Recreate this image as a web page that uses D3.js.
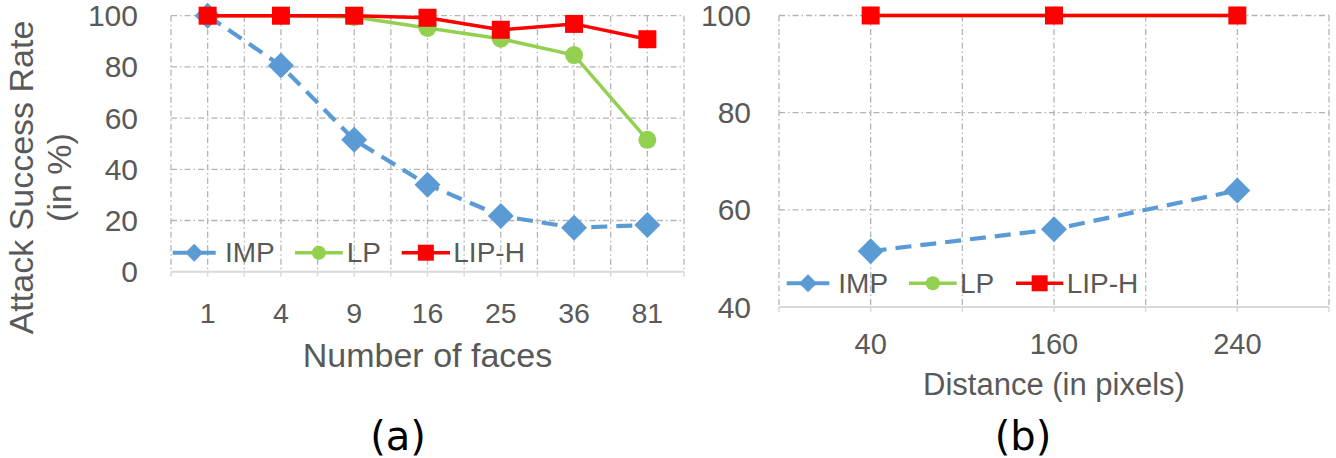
<!DOCTYPE html>
<html><head><meta charset="utf-8">
<script src="https://cdn.jsdelivr.net/npm/d3@7"></script>
<style>
html,body{margin:0;padding:0;background:#fff;}
svg{display:block;}
text{font-family:"Liberation Sans",Arial,sans-serif;fill:#595959;}
</style></head>
<body>
<svg id="c" width="1336" height="458"></svg>
<script>
// ---- data ----
const facesCats = ["1","4","9","16","25","36","81"];
const facesIMP  = [100, 80.5, 51.5, 34, 21.8, 17.2, 18.2];
const facesLP   = [100, 100, 99.5, 95.2, 91, 84.6, 51.5];
const facesLIPH = [100, 100, 100, 99.2, 94.5, 96.8, 90.8];
const facesYTicks = [0, 20, 40, 60, 80, 100];

const distCats = ["40","160","240"];
const distIMP  = [51.5, 56, 64];
const distLP   = [100, 100, 100];
const distLIPH = [100, 100, 100];
const distYTicks = [40, 60, 80, 100];

const seriesNames = ["IMP","LP","LIP-H"];
const yTitle = ["Attack Success Rate","(in %)"];
const xTitleA = "Number of faces";
const xTitleB = "Distance (in pixels)";
const captions = ["(a)","(b)"];

// ---- styles ----
const colors = {"IMP":"#5B9BD5","LP":"#92D050","LIP-H":"#FF0000"};
const svg = d3.select("#c");
const gridColor = "#b4b4b4";

function diamondPath(r){ return `M0,${-r}L${r},0L0,${r}L${-r},0Z`; }

function drawPanel(o){
  const g = svg.append("g");
  const x = d3.scalePoint().domain(o.cats).range([o.x0, o.x1]).padding(0.5);
  const y = d3.scaleLinear().domain(o.yDomain).range([o.yB, o.yT]);
  const step = x.step();
  const nHalf = o.cats.length*2;
  const halfs = d3.range(nHalf+1).map(i => o.x0 + i*step/2);

  // horizontal grid
  g.selectAll(".hg").data(o.yTicks.filter(t => t !== o.yDomain[0])).join("line")
    .attr("x1", o.x0).attr("x2", o.x1)
    .attr("y1", d => y(d)).attr("y2", d => y(d))
    .attr("stroke", gridColor).attr("stroke-width", 1.3)
    .attr("stroke-dasharray", "6,3,1.5,3");
  // vertical grid
  g.selectAll(".vg").data(halfs).join("line")
    .attr("x1", d => d).attr("x2", d => d)
    .attr("y1", y(o.yDomain[1])).attr("y2", o.yB)
    .attr("stroke", gridColor).attr("stroke-width", 1.3)
    .attr("stroke-dasharray", "6,3,1.5,3");
  // x axis line + ticks
  g.append("line").attr("x1", o.x0).attr("x2", o.x1).attr("y1", o.yB).attr("y2", o.yB)
    .attr("stroke", "#d9d9d9").attr("stroke-width", 2);
  g.selectAll(".xt").data(halfs).join("line")
    .attr("x1", d => d).attr("x2", d => d).attr("y1", o.yB).attr("y2", o.yB+5)
    .attr("stroke", "#d9d9d9").attr("stroke-width", 1.5);

  // y tick labels
  g.selectAll(".yl").data(o.yTicks).join("text")
    .attr("x", o.yLabelX).attr("y", d => y(d))
    .attr("text-anchor", "end").attr("dominant-baseline", "central")
    .attr("font-size", o.yFont).text(d => d);
  // x tick labels
  g.selectAll(".xl").data(o.cats).join("text")
    .attr("x", d => x(d)).attr("y", o.xLabelY)
    .attr("text-anchor", "middle").attr("font-size", o.xFont).text(d => d);
  // x title
  g.append("text").attr("x", (o.x0+o.x1)/2).attr("y", o.xTitleY)
    .attr("text-anchor", "middle").attr("font-size", o.xTitleFont).text(o.xTitle);

  const line = d3.line().x(d => x(d.c)).y(d => y(d.v));
  const ser = o.series.map(s => ({name:s.name, pts:o.cats.map((c,i)=>({c, v:s.vals[i]}))}));
  ser.forEach(s => {
    const col = colors[s.name];
    const path = g.append("path").datum(s.pts).attr("d", line)
      .attr("fill","none").attr("stroke", col)
      .attr("stroke-width", s.name==="IMP" ? 4.2 : 3.5)
      .attr("stroke-linejoin","round");
    if (s.name==="IMP") path.attr("stroke-dasharray","16,9");
    const m = g.selectAll(null).data(s.pts).join("g")
      .attr("transform", d => `translate(${x(d.c)},${y(d.v)})`);
    if (s.name==="IMP") m.append("path").attr("d", diamondPath(13)).attr("fill", col);
    else if (s.name==="LP") m.append("circle").attr("r", 9).attr("fill", col);
    else m.append("rect").attr("x",-9).attr("y",-9).attr("width",18).attr("height",18).attr("fill", col);
  });

  // legend
  const lg = g.append("g");
  o.legend.forEach((L, i) => {
    const name = seriesNames[i];
    const col = colors[name];
    lg.append("line").attr("x1", L.l0).attr("x2", L.l1).attr("y1", o.legY).attr("y2", o.legY)
      .attr("stroke", col).attr("stroke-width", name==="IMP"?4:3.5);
    const cx = (L.l0+L.l1)/2;
    if (name==="IMP") lg.append("path").attr("d", diamondPath(9)).attr("transform",`translate(${cx},${o.legY})`).attr("fill", col);
    else if (name==="LP") lg.append("circle").attr("cx",cx).attr("cy",o.legY).attr("r",7).attr("fill",col);
    else lg.append("rect").attr("x",cx-8).attr("y",o.legY-8).attr("width",16).attr("height",16).attr("fill",col);
    lg.append("text").attr("x", L.t).attr("y", o.legY).attr("dominant-baseline","central")
      .attr("font-size", 28).text(name);
  });
}

drawPanel({
  cats: facesCats, x0: 171, x1: 684, yT: 15.7, yB: 271.7, yDomain:[0,100], yTicks: facesYTicks,
  yLabelX: 138, yFont: 30, xLabelY: 323, xFont: 28.5, xTitle: xTitleA, xTitleY: 367, xTitleFont: 34,
  series: [{name:"IMP", vals:facesIMP},{name:"LP", vals:facesLP},{name:"LIP-H", vals:facesLIPH}],
  legY: 252.7,
  legend: [{l0:172.7,l1:215.7,t:225},{l0:295,l1:342.7,t:346.7},{l0:401.7,l1:450,t:453.3}]
});
drawPanel({
  cats: distCats, x0: 779, x1: 1329, yT: 15.5, yB: 307, yDomain:[40,100], yTicks: distYTicks,
  yLabelX: 751, yFont: 30, xLabelY: 354, xFont: 29, xTitle: xTitleB, xTitleY: 395, xTitleFont: 31,
  series: [{name:"IMP", vals:distIMP},{name:"LP", vals:distLP},{name:"LIP-H", vals:distLIPH}],
  legY: 283.3,
  legend: [{l0:786.7,l1:829.3,t:838.3},{l0:909,l1:956.7,t:960},{l0:1016,l1:1063.3,t:1066.7}]
});

// y title (left chart)
svg.append("text").attr("transform","translate(33,177.5) rotate(-90)")
  .attr("text-anchor","middle").attr("font-size",34).text(yTitle[0]);
svg.append("text").attr("transform","translate(71,177.5) rotate(-90)")
  .attr("text-anchor","middle").attr("font-size",34).text(yTitle[1]);

// captions
svg.append("text").attr("x",398).attr("y",450).attr("text-anchor","middle")
  .style("font-family","'DejaVu Sans',sans-serif").style("fill","#000").attr("font-size",40).text(captions[0]);
svg.append("text").attr("x",1023).attr("y",450).attr("text-anchor","middle")
  .style("font-family","'DejaVu Sans',sans-serif").style("fill","#000").attr("font-size",40).text(captions[1]);
</script>
</body></html>
